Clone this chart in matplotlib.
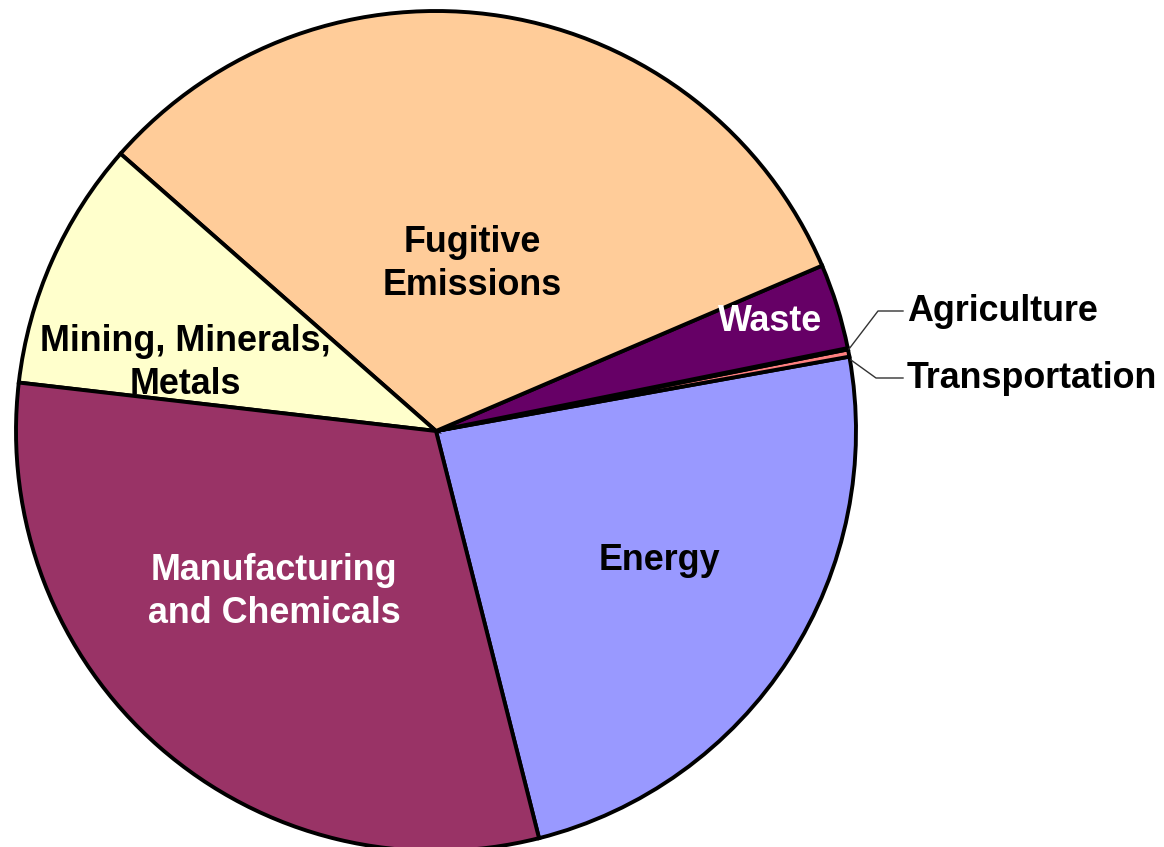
import matplotlib
matplotlib.use("Agg")
import matplotlib.pyplot as plt

W, H = 1164, 847

# slices, counterclockwise starting from the Energy/Manufacturing edge
labels = ["Energy", "Transportation", "Agriculture", "Waste",
          "Fugitive Emissions", "Mining, Minerals, Metals", "Manufacturing and Chemicals"]
values = [23.9, 0.28, 0.05, 3.28, 32.1, 9.64, 30.8]
colors = ["#9999FF", "#FF8080", "#FFFFFF", "#660066", "#FFCC99", "#FFFFCC", "#993366"]

plt.rcParams['font.family'] = ['Liberation Sans', 'DejaVu Sans']

fig = plt.figure(figsize=(W / 100, H / 100), dpi=100)
ax = fig.add_axes([0, 0, 1, 1])

cx, cy, r = 436, H - 431, 420
ax.pie(values, colors=colors, startangle=-75.8, counterclock=True,
       center=(cx, cy), radius=r,
       wedgeprops=dict(edgecolor="black", linewidth=2.8, joinstyle="miter"))
ax.set_xlim(0, W)
ax.set_ylim(0, H)
ax.set_aspect("equal")
ax.axis("off")

fs = 25.8
kw = dict(fontsize=fs, fontweight="bold", ha="center", va="center", linespacing=1.27)
ax.text(472, H - 264, "Fugitive\nEmissions", color="black", **kw)
ax.text(770, H - 321, "Waste", color="white", **kw)
ax.text(185, H - 363, "Mining, Minerals,\nMetals", color="black", **kw)
ax.text(274, H - 592, "Manufacturing\nand Chemicals", color="white", **kw)
ax.text(659, H - 560, "Energy", color="black", **kw)

# leader lines for the tiny slices
ax.plot([849, 878, 903], [H - 349, H - 311, H - 311], color="#333333", lw=1)
ax.plot([851, 876, 903], [H - 360, H - 378, H - 378], color="#333333", lw=1)
ax.text(907, H - 311, "Agriculture", color="black", fontsize=fs, fontweight="bold",
        ha="left", va="center")
ax.text(907, H - 378, "Transportation", color="black", fontsize=fs, fontweight="bold",
        ha="left", va="center")

fig.savefig("out.png", dpi=100)
